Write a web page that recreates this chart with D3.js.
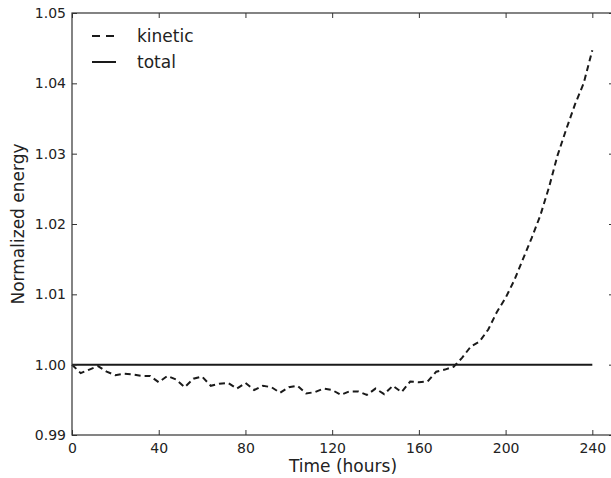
<!DOCTYPE html>
<html>
<head>
<meta charset="utf-8">
<script src="https://cdn.jsdelivr.net/npm/d3@7"></script>
<style>
  body { margin: 0; background: #fff; }
  svg { font-family: "DejaVu Sans", sans-serif; }
</style>
</head>
<body>
<div id="vis"></div>
<script>
// frame
const FRAME_WIDTH = 611;
const FRAME_HEIGHT = 478;
const MARGINS = {left: 72, right: -3, top: 13, bottom: 43};

// data
const hours = [0,4,8,12,16,20,24,28,32,36,40,44,48,52,56,60,64,68,72,76,80,84,88,92,96,100,
  104,108,112,116,120,124,128,132,136,140,144,148,152,156,160,164,168,172,176,180,184,188,
  192,196,200,204,208,212,216,220,224,228,232,236,240];
const kinetic = [1.0000,0.9988,0.9993,0.9998,0.9990,0.9985,0.9987,0.9986,0.9984,0.9984,0.9975,
  0.9984,0.9979,0.9968,0.9980,0.9983,0.9970,0.9973,0.9974,0.9966,0.9974,0.9964,0.9970,0.9968,
  0.9960,0.9968,0.9970,0.9959,0.9961,0.9966,0.9964,0.9957,0.9962,0.9962,0.9957,0.9966,0.9958,
  0.9970,0.9961,0.9976,0.9975,0.9976,0.9990,0.9993,0.9997,1.0010,1.0026,1.0033,1.0050,1.0075,
  1.0095,1.0120,1.0150,1.0180,1.0212,1.0252,1.0298,1.0335,1.0370,1.0400,1.0447];
const total = hours.map(() => 1.0);
const xTicks = [0,40,80,120,160,200,240];
const yTicks = [0.99,1.00,1.01,1.02,1.03,1.04,1.05];

const VIS_WIDTH = FRAME_WIDTH - MARGINS.left - MARGINS.right;
const VIS_HEIGHT = FRAME_HEIGHT - MARGINS.top - MARGINS.bottom;

const svg = d3.select("#vis").append("svg")
  .attr("width", FRAME_WIDTH)
  .attr("height", FRAME_HEIGHT);

const X_SCALE = d3.scaleLinear().domain([0, 250]).range([0, VIS_WIDTH]);
const Y_SCALE = d3.scaleLinear().domain([0.99, 1.05]).range([VIS_HEIGHT, 0]);

const g = svg.append("g")
  .attr("transform", "translate(" + MARGINS.left + "," + MARGINS.top + ")");

// lines
const line = d3.line()
  .x((d) => X_SCALE(d[0]))
  .y((d) => Y_SCALE(d[1]));

g.append("path")
  .datum(hours.map((h, i) => [h, total[i]]))
  .attr("d", line)
  .attr("fill", "none")
  .attr("stroke", "#1a1a1a")
  .attr("stroke-width", 2);

g.append("path")
  .datum(hours.map((h, i) => [h, kinetic[i]]))
  .attr("d", line)
  .attr("fill", "none")
  .attr("stroke", "#1a1a1a")
  .attr("stroke-width", 2)
  .attr("stroke-dasharray", "6,4");

// axes (inward ticks, matplotlib classic look)
const styleAxis = (sel) => {
  sel.select(".domain").remove();
  sel.selectAll(".tick line").attr("stroke", "#333").attr("stroke-width", 1);
  sel.selectAll(".tick text").attr("font-size", "14px").attr("fill", "#222")
    .attr("font-family", "DejaVu Sans");
};

g.append("g")
  .attr("transform", "translate(0," + VIS_HEIGHT + ")")
  .call(d3.axisBottom(X_SCALE).tickValues(xTicks).tickSize(-5).tickPadding(8)
    .tickFormat(d3.format("d")))
  .call(styleAxis);

g.append("g")
  .call(d3.axisTop(X_SCALE).tickValues(xTicks).tickSize(-5).tickFormat(""))
  .call(styleAxis);

g.append("g")
  .call(d3.axisLeft(Y_SCALE).tickValues(yTicks).tickSize(-5).tickPadding(6)
    .tickFormat(d3.format(".2f")))
  .call(styleAxis);

g.append("g")
  .attr("transform", "translate(" + VIS_WIDTH + ",0)")
  .call(d3.axisRight(Y_SCALE).tickValues(yTicks).tickSize(-5).tickFormat(""))
  .call(styleAxis);

// frame
g.append("rect")
  .attr("width", VIS_WIDTH)
  .attr("height", VIS_HEIGHT)
  .attr("fill", "none")
  .attr("stroke", "#333")
  .attr("stroke-width", 1.2);

// axis labels
svg.append("text")
  .attr("x", MARGINS.left + VIS_WIDTH / 2)
  .attr("y", 472)
  .attr("text-anchor", "middle")
  .attr("font-size", "17px")
  .attr("fill", "#222")
  .text("Time (hours)");

svg.append("text")
  .attr("transform", "translate(24," + (MARGINS.top + VIS_HEIGHT / 2) + ") rotate(-90)")
  .attr("text-anchor", "middle")
  .attr("font-size", "17px")
  .attr("fill", "#222")
  .text("Normalized energy");

// legend
const legend = [
  {label: "kinetic", dash: "8,6", y: 36},
  {label: "total", dash: null, y: 62}
];
const lg = svg.append("g");
legend.forEach((d) => {
  lg.append("line")
    .attr("x1", 92).attr("x2", 116)
    .attr("y1", d.y).attr("y2", d.y)
    .attr("stroke", "#1a1a1a")
    .attr("stroke-width", 2)
    .attr("stroke-dasharray", d.dash);
  lg.append("text")
    .attr("x", 137).attr("y", d.y + 6)
    .attr("font-size", "17px")
    .attr("fill", "#222")
    .text(d.label);
});
</script>
</body>
</html>
